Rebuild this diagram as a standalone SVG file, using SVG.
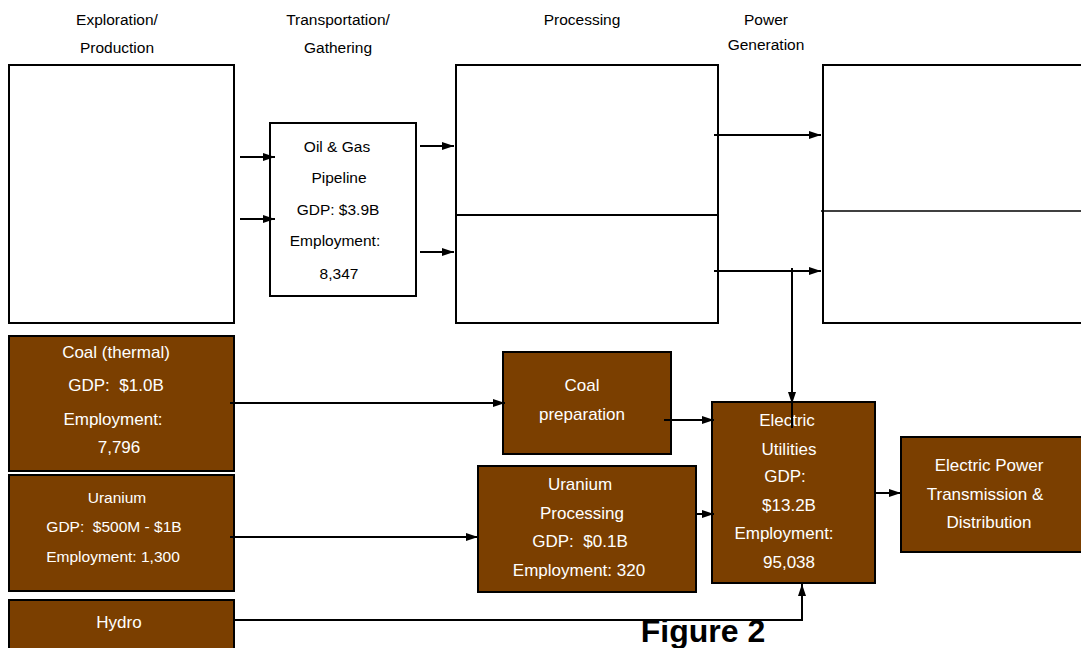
<svg xmlns="http://www.w3.org/2000/svg" width="1081" height="648" viewBox="0 0 1081 648">
<defs>
<marker id="ah" viewBox="0 0 12 8" refX="12" refY="4" markerWidth="12" markerHeight="8" markerUnits="userSpaceOnUse" orient="auto">
<path d="M0,0 L12,4 L0,8 Z" fill="#000"/>
</marker>
</defs>
<style>
text{font-family:"Liberation Sans",Arial,sans-serif;text-anchor:middle;white-space:pre;}
.hd{font-size:15.5px;fill:#000;}
.bw{fill:#fff;stroke:#000;stroke-width:2;}
.br{fill:#7B3F00;stroke:#000;stroke-width:2;}
.wt{font-size:17px;fill:#fff;}
.ws{font-size:15.5px;fill:#fff;}
.bt{font-size:15.5px;fill:#000;}
.c{fill:none;stroke:#000;stroke-width:2;}
.ca{fill:none;stroke:#000;stroke-width:2;marker-end:url(#ah);}
</style>
<rect width="1081" height="648" fill="#fff"/>
<g id="headers">
<text class="hd" x="117" y="25">Exploration/</text>
<text class="hd" x="117" y="53">Production</text>
<text class="hd" x="338" y="25">Transportation/</text>
<text class="hd" x="338" y="53">Gathering</text>
<text class="hd" x="582" y="25">Processing</text>
<text class="hd" x="766" y="25">Power</text>
<text class="hd" x="766" y="50">Generation</text>
</g>
<g id="exploration"><rect class="bw" x="9" y="65" width="225" height="258"/></g>
<g id="pipeline">
<rect class="bw" x="270" y="123" width="146" height="173"/>
<text class="bt" x="337" y="152">Oil &amp; Gas</text>
<text class="bt" x="339" y="183">Pipeline</text>
<text class="bt" x="338" y="215">GDP: $3.9B</text>
<text class="bt" x="335" y="246">Employment:</text>
<text class="bt" x="339" y="279">8,347</text>
</g>
<g id="processing">
<rect class="bw" x="456" y="65" width="262" height="258"/>
<line x1="456" y1="215" x2="718" y2="215" stroke="#000" stroke-width="2"/>
</g>
<g id="power-generation">
<rect class="bw" x="823" y="65" width="270" height="258"/>
<line x1="821" y1="211" x2="1081" y2="211" stroke="#000" stroke-width="1.5"/>
</g>
<g id="coal-thermal">
<rect class="br" x="9" y="336" width="225" height="135"/>
<text class="wt" x="116" y="358">Coal (thermal)</text>
<text class="wt" x="116" y="391">GDP:  $1.0B</text>
<text class="wt" x="113" y="425">Employment:</text>
<text class="wt" x="119" y="453">7,796</text>
</g>
<g id="uranium">
<rect class="br" x="9" y="475" width="225" height="116"/>
<text class="ws" x="117" y="503">Uranium</text>
<text class="ws" x="114" y="532">GDP:  $500M - $1B</text>
<text class="ws" x="113" y="562">Employment: 1,300</text>
</g>
<g id="hydro">
<rect class="br" x="9" y="600" width="225" height="60"/>
<text class="wt" x="119" y="628">Hydro</text>
</g>
<g id="coal-preparation">
<rect class="br" x="503" y="352" width="168" height="102"/>
<text class="wt" x="582" y="391">Coal</text>
<text class="wt" x="582" y="420">preparation</text>
</g>
<g id="uranium-processing">
<rect class="br" x="478" y="466" width="218" height="126"/>
<text class="wt" x="580" y="490">Uranium</text>
<text class="wt" x="582" y="519">Processing</text>
<text class="wt" x="580" y="547">GDP:  $0.1B</text>
<text class="wt" x="579" y="576">Employment: 320</text>
</g>
<g id="electric-utilities">
<rect class="br" x="712" y="402" width="163" height="181"/>
<text class="wt" x="787" y="426">Electric</text>
<text class="wt" x="789" y="455">Utilities</text>
<text class="wt" x="785" y="482">GDP:</text>
<text class="wt" x="789" y="511">$13.2B</text>
<text class="wt" x="784" y="539">Employment:</text>
<text class="wt" x="789" y="568">95,038</text>
</g>
<g id="transmission">
<rect class="br" x="901" y="437" width="190" height="115"/>
<text class="wt" x="989" y="471">Electric Power</text>
<text class="wt" x="985" y="500">Transmission &amp;</text>
<text class="wt" x="989" y="528">Distribution</text>
</g>
<g id="connectors">
<line class="c" x1="792" y1="400" x2="792" y2="428" stroke-width="1.5"/>
<line class="ca" x1="240" y1="157" x2="275" y2="157"/>
<line class="ca" x1="240" y1="219" x2="275" y2="219"/>
<line class="ca" x1="420" y1="146" x2="454" y2="146"/>
<line class="ca" x1="420" y1="252" x2="454" y2="252"/>
<line class="ca" x1="714" y1="135" x2="821" y2="135"/>
<line class="ca" x1="714" y1="271" x2="821" y2="271"/>
<line class="ca" x1="792" y1="268" x2="792" y2="404" stroke-width="1.5"/>
<line class="ca" x1="230" y1="403" x2="505" y2="403" stroke-width="1.5"/>
<line class="ca" x1="664" y1="420" x2="714" y2="420" stroke-width="1.5"/>
<line class="ca" x1="230" y1="537" x2="478" y2="537" stroke-width="1.5"/>
<line class="ca" x1="696" y1="514" x2="714" y2="514" stroke-width="1.5"/>
<line class="ca" x1="875" y1="493" x2="901" y2="493" stroke-width="1.5"/>
<polyline class="ca" points="234,620 802,620 802,584"/>
</g>
<g id="caption">
<text x="703" y="642" style="font-size:32px;font-weight:bold;fill:#000;">Figure 2</text>
</g>
</svg>
